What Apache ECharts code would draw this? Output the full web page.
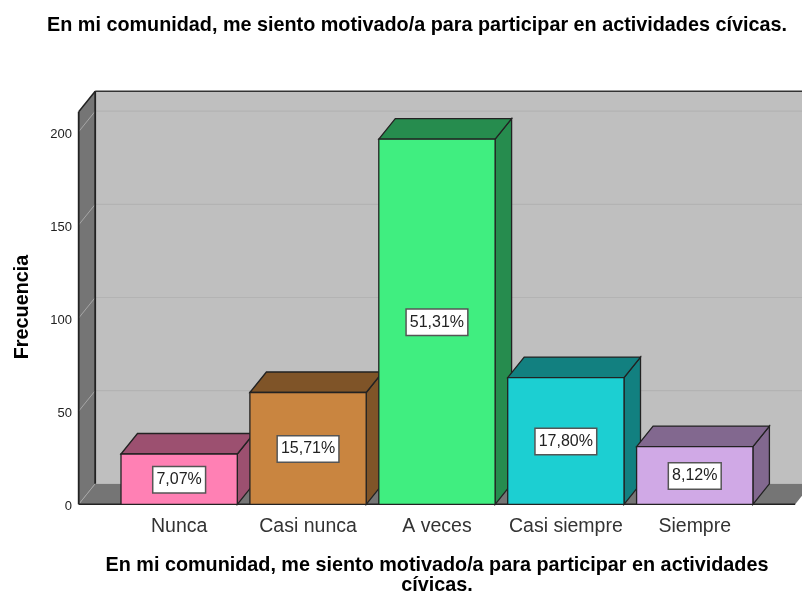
<!DOCTYPE html>
<html>
<head>
<meta charset="utf-8">
<style>html,body{margin:0;padding:0;background:#fff}#c{width:802px;height:591px}</style>
<script src="https://cdn.jsdelivr.net/npm/echarts@6/dist/echarts.min.js"></script>
</head>
<body>
<div id="c"></div>
<script>
const chartTitle = 'En mi comunidad, me siento motivado/a para participar en actividades cívicas.';
const xAxisTitle = 'En mi comunidad, me siento motivado/a para participar en actividades\ncívicas.';
const yAxisTitle = 'Frecuencia';
const categories = ['Nunca', 'Casi nunca', 'A veces', 'Casi siempre', 'Siempre'];
const frequencies = [27, 60, 196, 68, 31];
const percentLabels = ['7,07%', '15,71%', '51,31%', '17,80%', '8,12%'];
const frontColors = ['#ff80b4', '#c98540', '#40ee80', '#1ccfd2', '#d0a9e6'];
const sideColors = ['#9c5070', '#7f5428', '#268c4e', '#128080', '#82688f'];
const gridValues = [0, 50, 100, 150, 200];
const wallTopValue = 210.7;

const DX = 16.5, DY = -20.5, SIDE_PAD = 36;
const EDGE = '#222222';

function poly(points, fill, stroke, lw) {
  return { type: 'polygon', shape: { points }, style: { fill, stroke: stroke || 'none', lineWidth: lw || 0 } };
}
function line(x1, y1, x2, y2, stroke, lw) {
  return { type: 'line', shape: { x1, y1, x2, y2 }, style: { stroke, lineWidth: lw, fill: 'none' } };
}

function renderWalls(params, api) {
  const cs = params.coordSys;
  const L = cs.x - SIDE_PAD, R = cs.x + cs.width + SIDE_PAD;
  const y0 = api.coord([0, 0])[1], yT = api.coord([0, wallTopValue])[1];
  const kids = [
    poly([[L + DX, yT + DY], [R + DX, yT + DY], [R + DX, y0 + DY], [L + DX, y0 + DY]], '#bfbfbf'),
    poly([[L, yT], [L + DX, yT + DY], [L + DX, y0 + DY], [L, y0]], '#757575'),
    poly([[L, y0], [L + DX, y0 + DY], [R + DX, y0 + DY], [R, y0]], '#757575')
  ];
  gridValues.forEach(v => {
    const y = api.coord([0, v])[1];
    kids.push(line(L, y, L + DX, y + DY, '#a6a6a6', 1));
    if (v > 0) kids.push(line(L + DX, y + DY, R + DX, y + DY, '#b3b3b3', 1.2));
  });
  kids.push(line(L, y0, R, y0, EDGE, 1.6));
  kids.push(line(L, y0, L, yT, EDGE, 1.8));
  kids.push(line(L, yT, L + DX, yT + DY, EDGE, 1.5));
  kids.push(line(L + DX, yT + DY, R + DX, yT + DY, '#333333', 1.5));
  kids.push(line(L + DX, yT + DY, L + DX, y0 + DY, EDGE, 1.8));
  return { type: 'group', children: kids };
}

function renderBar(params, api) {
  const i = api.value(0);
  const p1 = api.coord([i, api.value(1)]), p0 = api.coord([i, 0]);
  const w = api.size([1, 0])[0] * 0.9023;
  const l = p1[0] - w / 2, r = p1[0] + w / 2, t = p1[1], b = p0[1];
  return {
    type: 'group',
    children: [
      poly([[r, t], [r + DX, t + DY], [r + DX, b + DY], [r, b]], sideColors[i], EDGE, 1.3),
      poly([[l, t], [l + DX, t + DY], [r + DX, t + DY], [r, t]], sideColors[i], EDGE, 1.3),
      poly([[l, t], [r, t], [r, b], [l, b]], frontColors[i], EDGE, 1.3),
      {
        type: 'text',
        style: {
          x: p1[0], y: (t + b) / 2 + 0.5, text: percentLabels[i], align: 'center', verticalAlign: 'middle',
          fontFamily: 'Liberation Sans', fontSize: 16, fill: '#222',
          backgroundColor: '#fff', borderColor: '#555', borderWidth: 1.5, padding: [5, 3, 4, 3]
        }
      }
    ]
  };
}

const chart = echarts.init(document.getElementById('c'), null, { renderer: 'canvas' });
chart.setOption({
  animation: false,
  backgroundColor: '#ffffff',
  title: {
    text: chartTitle, left: 412, top: 11, textAlign: 'center',
    textStyle: { fontFamily: 'Liberation Sans', fontWeight: 'bold', fontSize: 19.8, color: '#000' }
  },
  grid: { left: 114.7, top: 131.7, width: 644.5, height: 372.6, containLabel: false, outerBoundsMode: 'none' },
  xAxis: {
    type: 'category', data: categories,
    axisLine: { show: false }, axisTick: { show: false },
    axisLabel: { interval: 0, margin: 12.5, fontFamily: 'Liberation Sans', fontSize: 19.5, color: '#333' },
    name: xAxisTitle, nameLocation: 'middle', nameGap: 51,
    nameTextStyle: { fontFamily: 'Liberation Sans', fontWeight: 'bold', fontSize: 19.8, color: '#000', lineHeight: 20 }
  },
  yAxis: {
    type: 'value', min: 0, max: 200, interval: 50,
    axisLine: { show: false }, axisTick: { show: false }, splitLine: { show: false },
    axisLabel: { margin: 42.7, fontFamily: 'Liberation Sans', fontSize: 13, color: '#222', verticalAlign: 'top', lineHeight: 5 },
    name: yAxisTitle, nameLocation: 'middle', nameGap: 82,
    nameTextStyle: { fontFamily: 'Liberation Sans', fontWeight: 'bold', fontSize: 19.8, color: '#000', padding: [0, 0, 0, 22] }
  },
  series: [
    { type: 'custom', coordinateSystem: 'cartesian2d', renderItem: renderWalls, data: [[0, 0]], z: 1, silent: true, clip: false },
    { type: 'custom', coordinateSystem: 'cartesian2d', renderItem: renderBar, z: 2, clip: false,
      encode: { x: 0, y: 1 }, data: frequencies.map((v, i) => [i, v]) }
  ]
});
</script>
</body>
</html>
